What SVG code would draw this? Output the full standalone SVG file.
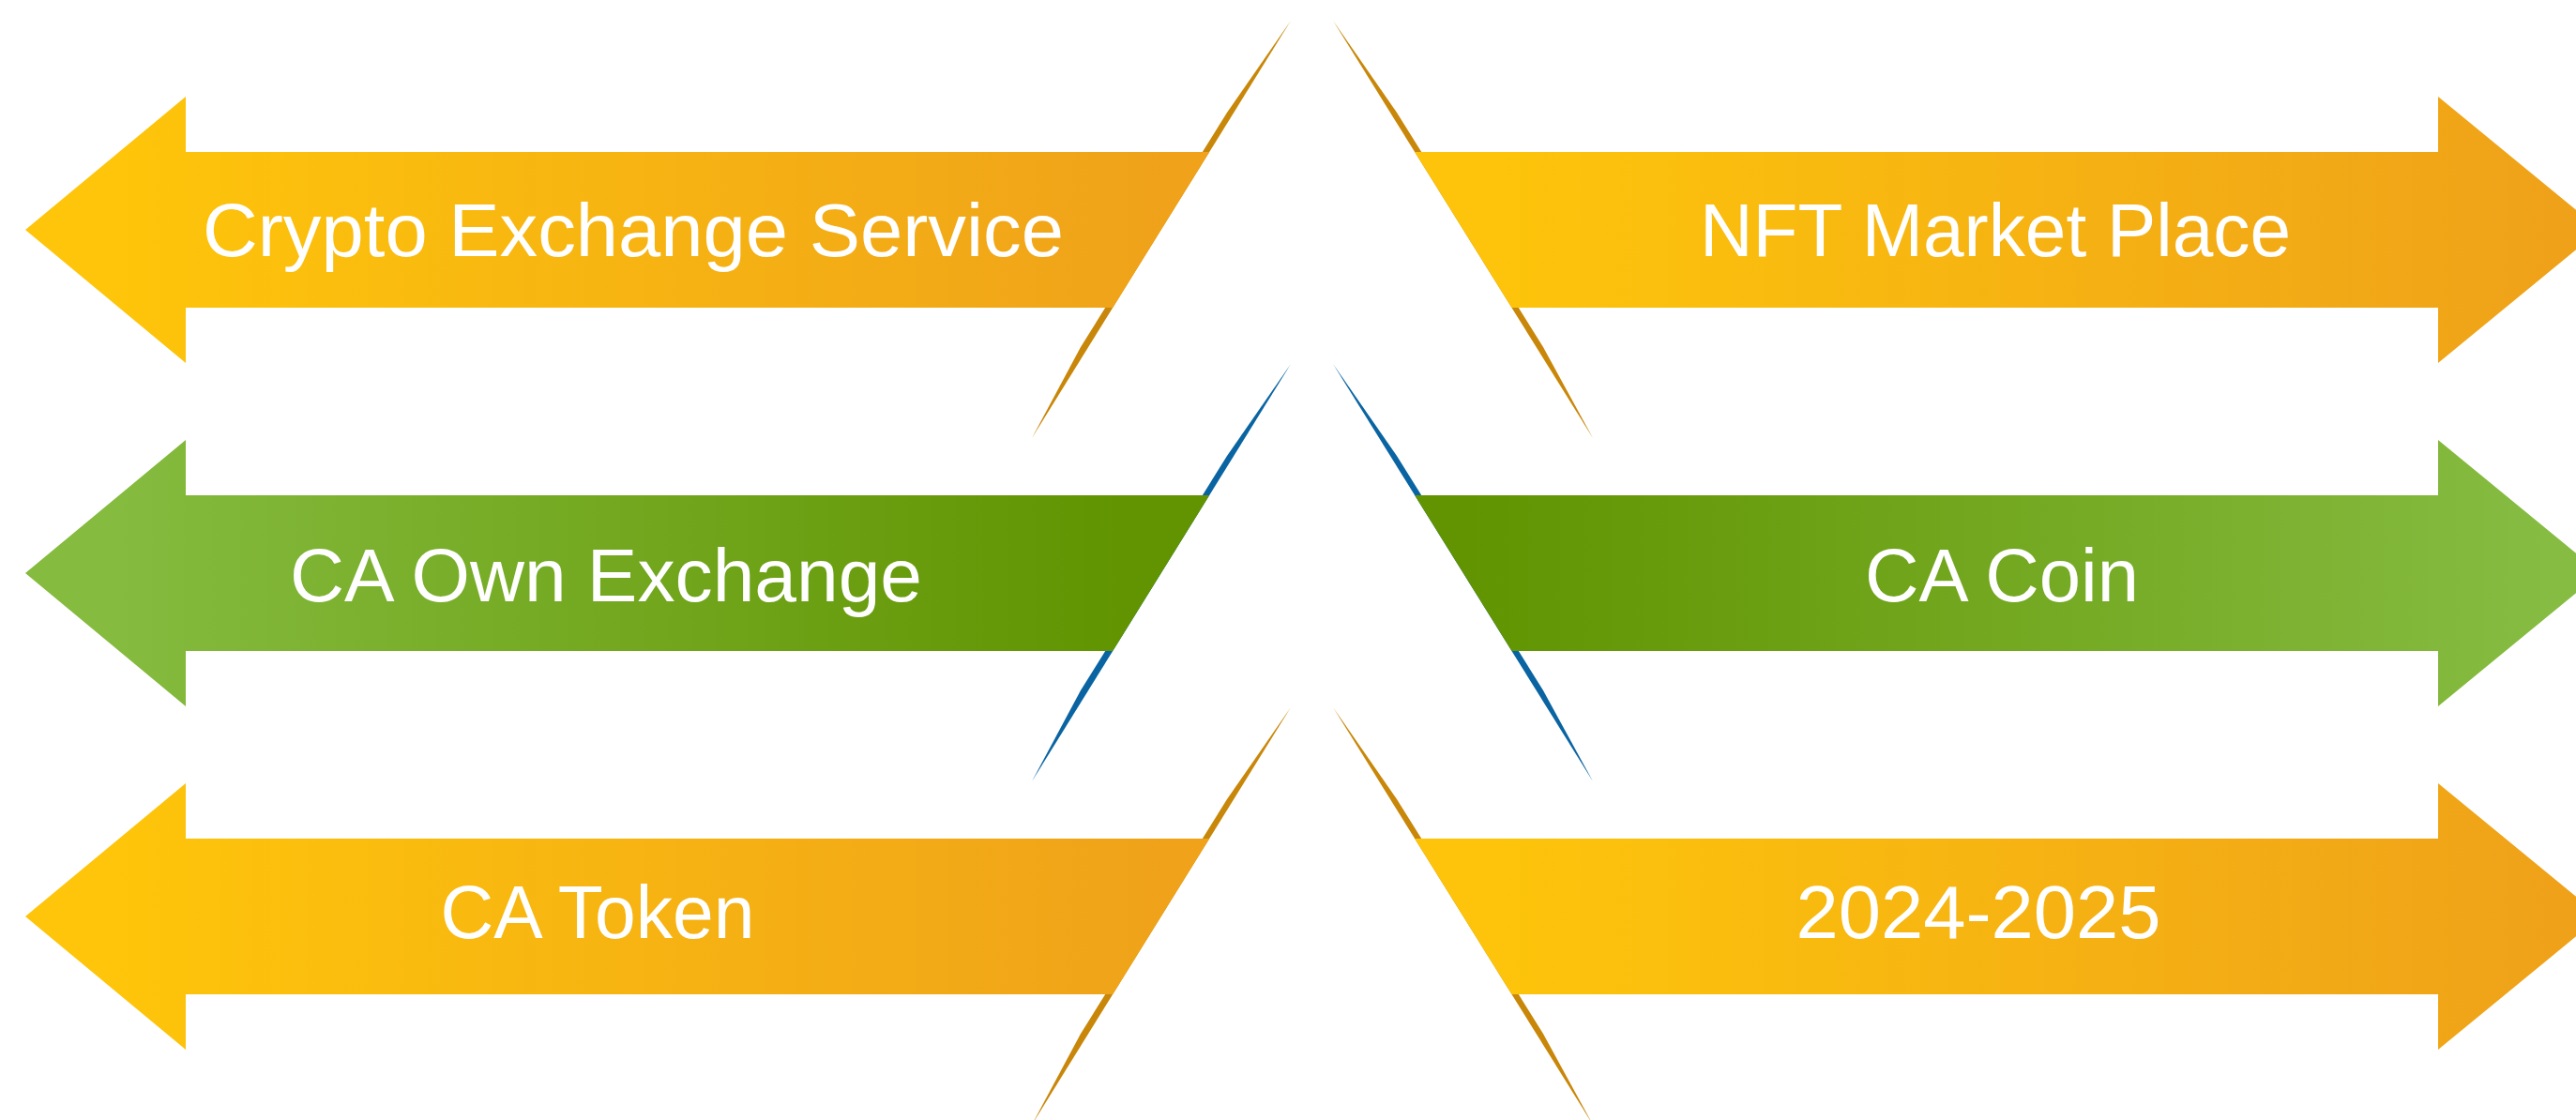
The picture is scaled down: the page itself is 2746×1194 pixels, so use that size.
<svg xmlns="http://www.w3.org/2000/svg" width="2746" height="1194" viewBox="0 0 2746 1194">
  <defs>
    <linearGradient id="gOrangeL" gradientUnits="userSpaceOnUse" x1="120" y1="0" x2="1250" y2="0">
      <stop offset="0" stop-color="#FEC50A"/>
      <stop offset="1" stop-color="#EFA21A"/>
    </linearGradient>
    <linearGradient id="gOrangeR" gradientUnits="userSpaceOnUse" x1="1600" y1="0" x2="2720" y2="0">
      <stop offset="0" stop-color="#FDC40B"/>
      <stop offset="1" stop-color="#EFA219"/>
    </linearGradient>
    <linearGradient id="gGreenL" gradientUnits="userSpaceOnUse" x1="120" y1="0" x2="1200" y2="0">
      <stop offset="0" stop-color="#85BB3F"/>
      <stop offset="1" stop-color="#619400"/>
    </linearGradient>
    <linearGradient id="gGreenR" gradientUnits="userSpaceOnUse" x1="1560" y1="0" x2="2720" y2="0">
      <stop offset="0" stop-color="#619400"/>
      <stop offset="1" stop-color="#86BC42"/>
    </linearGradient>
    <style>
      .lbl { font-family: "Liberation Sans", Arial, sans-serif; font-size: 80px; fill: #FFFFFF; text-anchor: middle; }
      .gold { fill: #C98709; }
      .blue { fill: #0A64A2; }
    </style>
  </defs>
  <rect width="2746" height="1194" fill="#FFFFFF"/>

  <g id="slivers">
    <polygon class="gold" points="1376,22 1308,120 1152,370 1100,467"/>
    <polygon class="gold" points="1421,22 1489,120 1645,370 1698,467"/>
    <polygon class="blue" points="1376,388 1308,486 1152,736 1100,833"/>
    <polygon class="blue" points="1421,388 1489,486 1645,736 1698,833"/>
    <polygon class="gold" points="1376,754 1308,852 1152,1102 1100,1199"/>
    <polygon class="gold" points="1421,754 1489,852 1645,1102 1698,1199"/>
  </g>

  <g id="crypto-exchange-service">
    <polygon fill="url(#gOrangeL)" points="27,245 198,103 198,162 1289.2,162 1186.2,328 198,328 198,387"/>
    <text class="lbl" x="675" y="273" textLength="918" lengthAdjust="spacingAndGlyphs">Crypto Exchange Service</text>
  </g>
  <g id="nft-market-place">
    <polygon fill="url(#gOrangeR)" points="1508.1,162 2599,162 2599,103 2772,245 2599,387 2599,328 1611.5,328"/>
    <text class="lbl" x="2127" y="273" textLength="630" lengthAdjust="spacingAndGlyphs">NFT Market Place</text>
  </g>

  <g id="ca-own-exchange">
    <polygon fill="url(#gGreenL)" points="27,611 198,469 198,528 1289.2,528 1186.2,694 198,694 198,753"/>
    <text class="lbl" x="646" y="641" textLength="674" lengthAdjust="spacingAndGlyphs">CA Own Exchange</text>
  </g>
  <g id="ca-coin">
    <polygon fill="url(#gGreenR)" points="1508.1,528 2599,528 2599,469 2772,611 2599,753 2599,694 1611.5,694"/>
    <text class="lbl" x="2134" y="641" textLength="292" lengthAdjust="spacingAndGlyphs">CA Coin</text>
  </g>

  <g id="ca-token">
    <polygon fill="url(#gOrangeL)" points="27,977 198,835 198,894 1289.2,894 1186.2,1060 198,1060 198,1119"/>
    <text class="lbl" x="637" y="1000" textLength="335" lengthAdjust="spacingAndGlyphs">CA Token</text>
  </g>
  <g id="year-2024-2025">
    <polygon fill="url(#gOrangeR)" points="1508.1,894 2599,894 2599,835 2772,977 2599,1119 2599,1060 1611.5,1060"/>
    <text class="lbl" x="2109" y="1000" textLength="389" lengthAdjust="spacingAndGlyphs">2024-2025</text>
  </g>

  <g id="connectors"/>
</svg>
